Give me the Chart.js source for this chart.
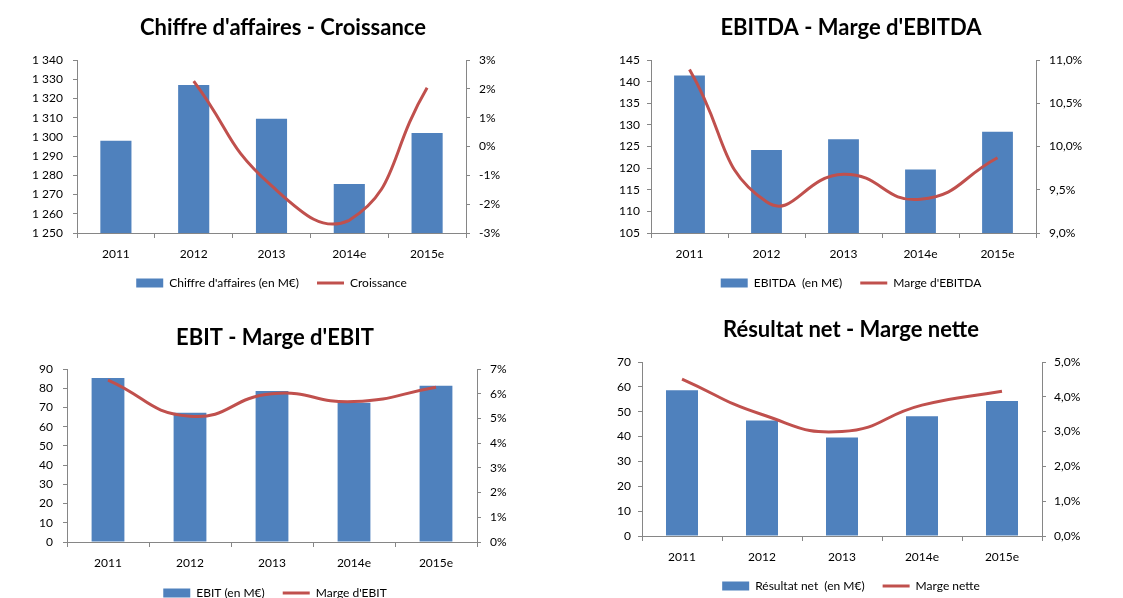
<!DOCTYPE html>
<html><head><meta charset="utf-8">
<script src="https://cdn.jsdelivr.net/npm/chart.js@4.4.1/dist/chart.umd.min.js"></script>
<style>
html,body{margin:0;padding:0;background:#fff;overflow:hidden;width:1123px;height:598px;position:relative;}
canvas{position:absolute;}
</style></head><body>
<canvas id="c1" width="560" height="300" style="left:3px;top:0px"></canvas>
<canvas id="c2" width="560" height="300" style="left:571px;top:0px"></canvas>
<canvas id="c3" width="550" height="310" style="left:0px;top:300px"></canvas>
<canvas id="c4" width="560" height="303" style="left:571px;top:300px"></canvas>
<script>
// ---- data ----
const categories = ['2011', '2012', '2013', '2014e', '2015e'];

const caValues = [1298, 1327, 1309.5, 1275.5, 1302];
const caGrowth = [null, 2.27, -1.36, -2.56, 2.04];
const caLeftTicks = [1250, 1340, 10];
const caRightTicks = [-3, 3, 1];

const ebitdaValues = [141.4, 124.2, 126.7, 119.7, 128.4];
const ebitdaMargin = [10.89, 9.36, 9.68, 9.39, 9.87];
const ebitdaLeftTicks = [105, 145, 5];
const ebitdaRightTicks = [9, 11, 0.5];

const ebitValues = [85.3, 67.3, 78.6, 72.5, 81.3];
const ebitMargin = [6.55, 5.09, 6.0, 5.68, 6.26];
const ebitLeftTicks = [0, 90, 10];
const ebitRightTicks = [0, 7, 1];

const netValues = [58.6, 46.5, 39.6, 48.2, 54.3];
const netMargin = [4.51, 3.49, 3.0, 3.76, 4.16];
const netLeftTicks = [0, 70, 10];
const netRightTicks = [0, 5, 1];

// ---- styling ----
const FONT = 'Lato, "Open Sans", sans-serif';
const BLUE = '#4F81BD', RED = '#C0504D', AXIS = '#868686';

const fmtThousands = v => String(v).replace(/\B(?=(\d{3})+(?!\d))/g, ' ');
const fmtPct0 = v => Math.round(v) + '%';
const fmtPct1 = v => v.toFixed(1).replace('.', ',') + '%';

function makeChart(id, o) {
  return new Chart(document.getElementById(id), {
    data: {
      labels: categories,
      datasets: [
        { type: 'bar', label: o.barLabel, data: o.bars, backgroundColor: BLUE, borderWidth: 0,
          yAxisID: 'y', order: 1, barPercentage: 0.4, categoryPercentage: 1 },
        { type: 'line', label: o.lineLabel, data: o.line, borderColor: RED, backgroundColor: RED,
          borderWidth: 3, pointRadius: 0, pointHoverRadius: 0, pointBorderWidth: 3, pointBorderColor: RED,
          tension: 0.5, yAxisID: 'y1', order: 0, fill: false }
      ]
    },
    options: {
      responsive: false, animation: false, events: [],
      layout: { padding: { left: 0, right: 0, top: 0, bottom: 1 } },
      plugins: {
        tooltip: { enabled: false },
        title: { display: true, text: o.title, color: '#000',
          font: { family: FONT, size: 22, weight: 'bold', lineHeight: 1.2 },
          padding: { top: o.tTop, bottom: o.tBot } },
        legend: { position: 'bottom', fullSize: o.legendFull,
          labels: { usePointStyle: true, pointStyleWidth: 27, boxHeight: 9, padding: 18, color: '#000',
            font: { family: FONT, size: 12 },
            generateLabels(chart) {
              const items = Chart.defaults.plugins.legend.labels.generateLabels(chart);
              items.sort((a, b) => a.datasetIndex - b.datasetIndex);
              items.forEach(it => {
                if (it.datasetIndex === 0) {
                  it.pointStyle = 'rect'; it.lineWidth = 0; it.fillStyle = BLUE; it.strokeStyle = BLUE;
                } else {
                  it.pointStyle = 'line'; it.lineWidth = 3; it.strokeStyle = RED; it.fillStyle = RED;
                }
              });
              return items;
            } } }
      },
      scales: {
        x: { type: 'category', offset: true,
          grid: { display: true, drawOnChartArea: false, drawTicks: true, tickLength: 5, color: AXIS, offset: true },
          border: { color: AXIS },
          ticks: { color: '#000', font: { family: FONT, size: 12 }, padding: 9, maxRotation: 0 },
          afterFit(s) { s.height = o.hx; } },
        y: { position: 'left', min: o.left[0], max: o.left[1],
          ticks: { stepSize: o.left[2], color: '#000', font: { family: FONT, size: 12 }, padding: o.lp, callback: o.lf },
          grid: { drawOnChartArea: false, tickLength: 4, color: AXIS },
          border: { color: AXIS },
          afterFit(s) { s.width = o.lw; } },
        y1: { position: 'right', min: o.right[0], max: o.right[1],
          ticks: { stepSize: o.right[2], color: '#000', font: { family: FONT, size: 12 }, padding: o.rp, callback: o.rf },
          grid: { drawOnChartArea: false, tickLength: 4, color: AXIS },
          border: { color: AXIS },
          afterFit(s) { s.width = o.rw; } }
      }
    }
  });
}

makeChart('c1', { title: "Chiffre d'affaires - Croissance", barLabel: "Chiffre d'affaires (en M€)", lineLabel: 'Croissance',
  bars: caValues, line: caGrowth, left: caLeftTicks, right: caRightTicks, lf: fmtThousands, rf: fmtPct0,
  tTop: 14.8, tBot: 18.8, hx: 26, lw: 74, rw: 97, lp: 10, rp: 9, legendFull: false });

makeChart('c2', { title: "EBITDA - Marge d'EBITDA", barLabel: 'EBITDA  (en M€)', lineLabel: "Marge d'EBITDA",
  bars: ebitdaValues, line: ebitdaMargin, left: ebitdaLeftTicks, right: ebitdaRightTicks, lf: v => v, rf: fmtPct1,
  tTop: 14.8, tBot: 18.8, hx: 26, lw: 80, rw: 95, lp: 7, rp: 9, legendFull: true });

makeChart('c3', { title: "EBIT - Marge d'EBIT", barLabel: 'EBIT (en M€)', lineLabel: "Marge d'EBIT",
  bars: ebitValues, line: ebitMargin, left: ebitLeftTicks, right: ebitRightTicks, lf: v => v, rf: fmtPct0,
  tTop: 24.8, tBot: 17.8, hx: 27, lw: 67, rw: 73, lp: 10, rp: 9, legendFull: true });

makeChart('c4', { title: 'Résultat net - Marge nette', barLabel: 'Résultat net  (en M€)', lineLabel: 'Marge nette',
  bars: netValues, line: netMargin, left: netLeftTicks, right: netRightTicks, lf: v => v, rf: fmtPct1,
  tTop: 16.8, tBot: 18.8, hx: 26, lw: 71, rw: 89, lp: 7, rp: 8, legendFull: true });
</script>
</body></html>
